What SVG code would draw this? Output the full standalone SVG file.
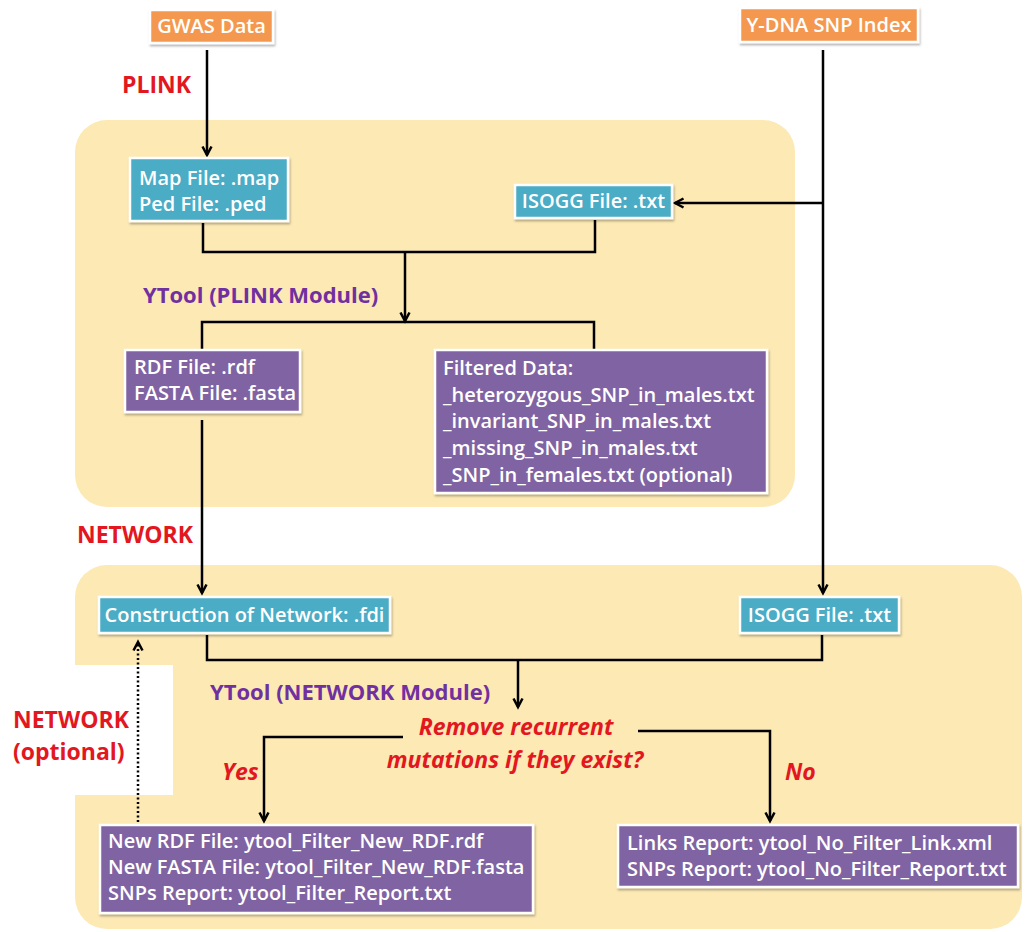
<svg xmlns="http://www.w3.org/2000/svg" width="1025" height="932" viewBox="0 0 1025 932">
<defs>
<style>
.panel{fill:#FCE9B4}
.box{stroke:#fff;stroke-width:2.5;filter:url(#sh)}
.or{fill:#F59850}
.bl{fill:#4BACC6}
.pu{fill:#8064A2}
.bt{font-family:"Open Sans","Liberation Sans",sans-serif;font-weight:600;font-size:20px;fill:#fff}
.red{font-family:"Open Sans","Liberation Sans",sans-serif;font-weight:700;font-size:23px;fill:#E3171F}
.redi{font-family:"Open Sans","Liberation Sans",sans-serif;font-weight:700;font-style:italic;font-size:23px;fill:#E3171F}
.pt{font-family:"Open Sans","Liberation Sans",sans-serif;font-weight:700;font-size:22px;fill:#7030A0}
.ln{fill:none;stroke:#000;stroke-width:2.5}
.ar{marker-end:url(#ah)}
.dot{fill:none;stroke:#000;stroke-width:2.5;stroke-dasharray:2 2.5}
</style>
<filter id="sh" x="-5%" y="-10%" width="110%" height="130%"><feDropShadow dx="1" dy="2" stdDeviation="1.2" flood-color="#000" flood-opacity="0.3"/></filter>
<marker id="ah" viewBox="0 0 12 12" refX="10.5" refY="6" markerWidth="12" markerHeight="12" markerUnits="userSpaceOnUse" orient="auto" overflow="visible"><path d="M2,1.5 L10.5,6 L2,10.5" fill="none" stroke="#000" stroke-width="2.5"/></marker>
</defs>
<rect width="1025" height="932" fill="#fff"/>
<g id="panels">
<rect class="panel" x="75" y="120" width="720" height="387" rx="32"/>
<rect class="panel" x="75" y="565" width="947" height="364" rx="32"/>
<rect x="0" y="665" width="173" height="130" fill="#fff"/>
</g>
<g id="connectors">
<line class="ln ar" x1="207" y1="50" x2="207" y2="155"/>
<line class="ln ar" x1="823" y1="50" x2="823" y2="593"/>
<line class="ln ar" x1="823" y1="203" x2="675" y2="203"/>
<path class="ln" d="M203,223 V252 H595 V220"/>
<line class="ln ar" x1="405" y1="252" x2="405" y2="321"/>
<path class="ln" d="M202,349 V322 H594 V349"/>
<line class="ln ar" x1="202" y1="420" x2="202" y2="593"/>
<path class="ln" d="M207,635 V660 H822 V635"/>
<line class="ln ar" x1="518" y1="660" x2="518" y2="707"/>
<path class="ln ar" d="M403,737 H264 V821"/>
<path class="ln ar" d="M638,731 H770 V821"/>
<line class="dot ar" x1="138" y1="822" x2="138" y2="642"/>
</g>
<g id="labels">
<text class="red" x="122" y="93">PLINK</text>
<text class="pt" x="143" y="303">YTool (PLINK Module)</text>
<text class="red" x="77" y="543">NETWORK</text>
<text class="pt" x="210" y="700">YTool (NETWORK Module)</text>
<text class="redi" x="516" y="735" text-anchor="middle">Remove recurrent</text>
<text class="redi" x="515" y="768" text-anchor="middle">mutations if they exist?</text>
<text class="redi" x="222" y="780">Yes</text>
<text class="redi" x="785" y="780">No</text>
<text class="red" x="13" y="728">NETWORK</text>
<text class="red" x="13" y="760">(optional)</text>
</g>
<g id="gwas">
<rect class="box or" x="150" y="10" width="123" height="33"/>
<text class="bt" x="211.5" y="33" text-anchor="middle">GWAS Data</text>
</g>
<g id="ydna">
<rect class="box or" x="740" y="8" width="178" height="34"/>
<text class="bt" x="829" y="32" text-anchor="middle">Y-DNA SNP Index</text>
</g>
<g id="mapped">
<rect class="box bl" x="130" y="158" width="158" height="63"/>
<text class="bt" x="139" y="185">Map File: .map</text>
<text class="bt" x="139" y="211">Ped File: .ped</text>
</g>
<g id="isogg1">
<rect class="box bl" x="515" y="185" width="157" height="33"/>
<text class="bt" x="593.5" y="208" text-anchor="middle">ISOGG File: .txt</text>
</g>
<g id="rdf">
<rect class="box pu" x="125" y="350" width="175" height="62"/>
<text class="bt" x="134" y="374">RDF File: .rdf</text>
<text class="bt" x="134" y="400">FASTA File: .fasta</text>
</g>
<g id="filtered">
<rect class="box pu" x="435" y="350" width="332" height="143"/>
<text class="bt" x="443" y="375">Filtered Data:</text>
<text class="bt" x="443" y="402">_heterozygous_SNP_in_males.txt</text>
<text class="bt" x="443" y="428">_invariant_SNP_in_males.txt</text>
<text class="bt" x="443" y="455">_missing_SNP_in_males.txt</text>
<text class="bt" x="443" y="482">_SNP_in_females.txt (optional)</text>
</g>
<g id="construction">
<rect class="box bl" x="99" y="597" width="291" height="36"/>
<text class="bt" x="244.5" y="622" text-anchor="middle">Construction of Network: .fdi</text>
</g>
<g id="isogg2">
<rect class="box bl" x="740" y="597" width="159" height="36"/>
<text class="bt" x="819.5" y="622" text-anchor="middle">ISOGG File: .txt</text>
</g>
<g id="newrdf">
<rect class="box pu" x="100" y="825" width="433" height="88"/>
<text class="bt" x="108" y="848">New RDF File: ytool_Filter_New_RDF.rdf</text>
<text class="bt" x="108" y="874">New FASTA File: ytool_Filter_New_RDF.fasta</text>
<text class="bt" x="108" y="900">SNPs Report: ytool_Filter_Report.txt</text>
</g>
<g id="links">
<rect class="box pu" x="618" y="825" width="400" height="62"/>
<text class="bt" x="627" y="850">Links Report: ytool_No_Filter_Link.xml</text>
<text class="bt" x="627" y="876">SNPs Report: ytool_No_Filter_Report.txt</text>
</g>
</svg>
